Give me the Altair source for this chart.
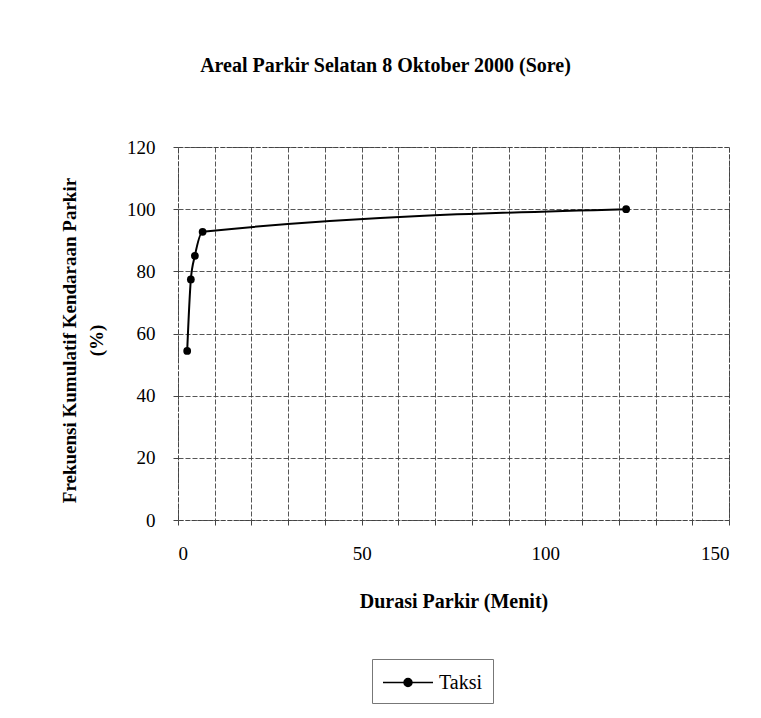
import altair as alt
import pandas as pd

# Data
durasi = [2.5, 3.5, 4.6, 6.7, 122]
frekuensi = [54.4, 77.4, 85.0, 92.7, 100]
seri = ["Taksi"] * len(durasi)

x_ticks = list(range(0, 151, 10))
y_ticks = list(range(0, 121, 20))

df = pd.DataFrame({"Durasi": durasi, "Frekuensi": frekuensi, "Seri": seri})

FONT = "Liberation Serif"
GRID = "#444444"

x_enc = alt.X(
    "Durasi:Q",
    scale=alt.Scale(domain=[0, 150], nice=False),
    axis=alt.Axis(
        values=x_ticks,
        labelExpr="datum.value % 50 == 0 ? datum.label : ''",
        title="Durasi Parkir (Menit)",
        titlePadding=28,
        labelPadding=19,
        titleFontSize=20,
    ),
)
y_enc = alt.Y(
    "Frekuensi:Q",
    scale=alt.Scale(domain=[0, 120], nice=False),
    axis=alt.Axis(
        values=y_ticks,
        title=["Frekuensi Kumulatif Kendaraan Parkir", "(%)"],
        titleX=-99,
        titleY=193,
        titleAlign="center",
        titleLineHeight=27,
        labelPadding=18,
    ),
)

base = alt.Chart(df).encode(x=x_enc, y=y_enc)

line = base.mark_line(
    interpolate="monotone", strokeWidth=2, color="black"
).encode(
    color=alt.Color(
        "Seri:N",
        scale=alt.Scale(range=["black"]),
        legend=alt.Legend(
            title=None,
            orient="none",
            legendX=194,
            legendY=512,
            symbolType="M-1,0H3M0.68,0A0.32,0.32,0,1,1,1.32,0A0.32,0.32,0,1,1,0.68,0",
            symbolSize=625,
            symbolStrokeWidth=1.5,
            symbolFillColor="black",
            symbolStrokeColor="black",
            strokeColor="#777777",
            padding=10,
            labelFont=FONT,
            labelFontSize=20,
            labelOffset=30,
        ),
    )
)

points = base.mark_circle(size=60, opacity=1, color="black")

chart = (
    alt.layer(line, points)
    .properties(
        width=551,
        height=373,
        title=alt.TitleParams(
            "Areal Parkir Selatan 8 Oktober 2000 (Sore)",
            font=FONT,
            fontSize=20,
            fontWeight="bold",
            anchor="middle",
            dx=-68,
            offset=62,
            color="black",
        ),
        padding={"left": 170, "top": 139, "right": 24, "bottom": 190},
        autosize=alt.AutoSizeParams(type="none"),
    )
    .configure_view(stroke=GRID, strokeDash=[4, 2], strokeWidth=1)
    .configure_axis(
        grid=True,
        gridColor=GRID,
        gridDash=[5, 2],
        gridWidth=1,
        gridOpacity=0.9,
        domain=False,
        tickColor=GRID,
        tickSize=5,
        labelFont=FONT,
        labelFontSize=19,
        labelColor="black",
        titleFont=FONT,
        titleFontSize=19,
        titleFontWeight="bold",
        titleColor="black",
    )
)

chart.save("out.html", embed_options={"renderer": "svg", "actions": False})
